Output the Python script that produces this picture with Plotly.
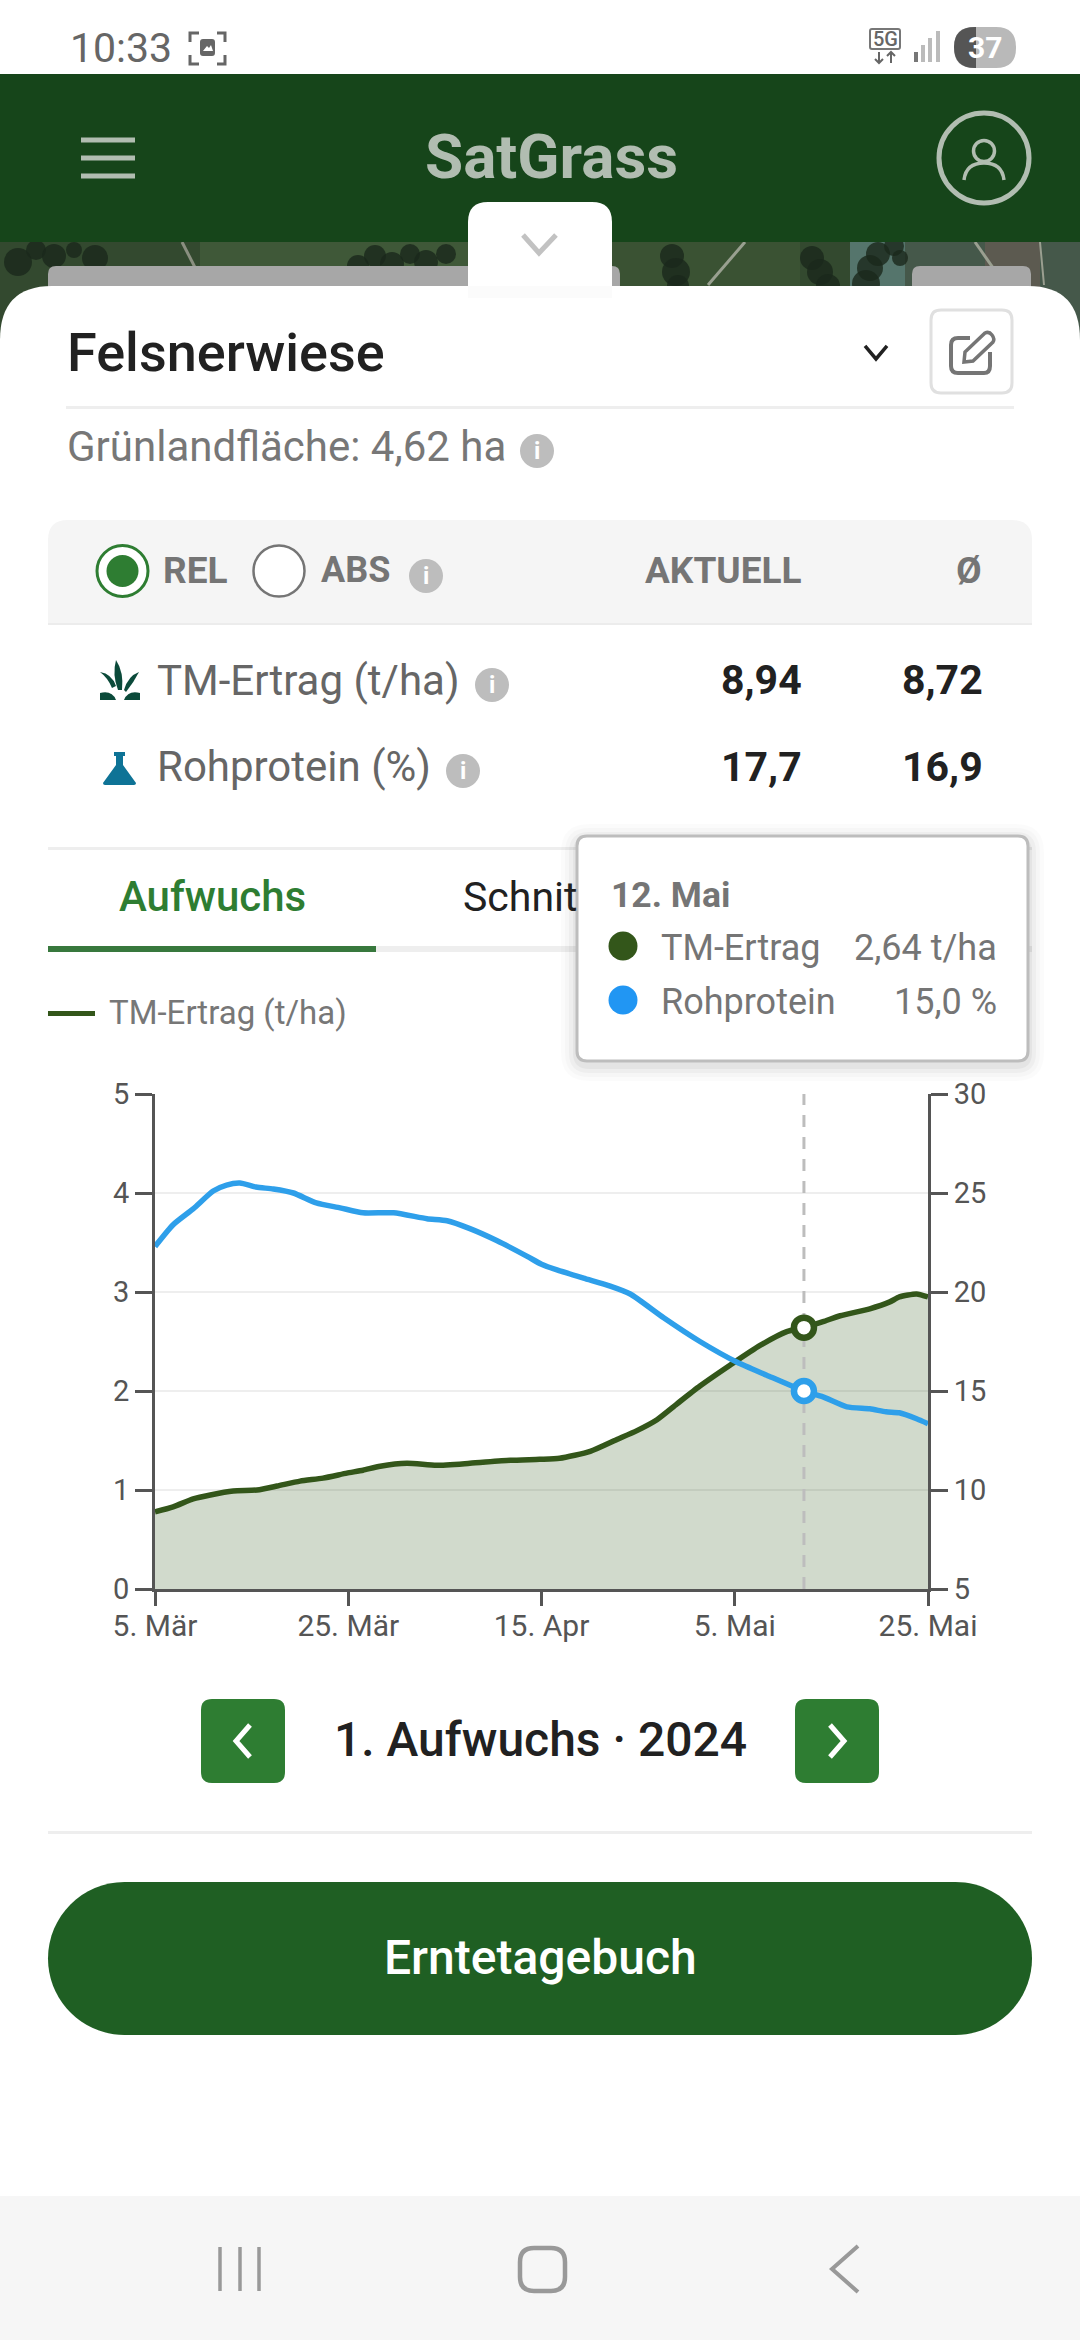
import numpy as np
import plotly.graph_objects as go

# values, x = days since 5. Mär
tm_days = [0, 1.9, 4, 5.8, 8.2, 10.7, 12.8, 15.2, 17.6, 20.1, 21.8, 23.6, 26.4, 29.5, 33, 37.2, 40.3, 42.4, 45.6, 48.4, 50.5, 52.6, 54.7, 57.1, 60.25, 63.4, 66.2, 68, 70, 71.8, 74.9, 77, 78, 79.8, 81]
tm_ertrag = [0.78, 0.83, 0.91, 0.95, 0.99, 1.00, 1.04, 1.09, 1.12, 1.17, 1.20, 1.24, 1.27, 1.25, 1.27, 1.30, 1.31, 1.32, 1.39, 1.51, 1.60, 1.71, 1.87, 2.05, 2.26, 2.46, 2.60, 2.64, 2.70, 2.76, 2.83, 2.90, 2.95, 2.98, 2.95]

rp_days = [0, 1.9, 4, 6.1, 7.5, 8.9, 10.6, 12.4, 14.5, 16.9, 19.4, 21.8, 25, 28.5, 30.6, 33, 35.8, 39, 40.5, 42.2, 44.9, 47.7, 49.8, 53.3, 57.1, 61, 64.1, 68, 70, 72.5, 74.9, 76.6, 78, 79.8, 81]
rohprotein = [22.3, 23.4, 24.2, 25.1, 25.4, 25.5, 25.3, 25.2, 25.0, 24.5, 24.25, 24.0, 24.0, 23.7, 23.6, 23.2, 22.6, 21.8, 21.4, 21.1, 20.7, 20.3, 19.9, 18.7, 17.5, 16.45, 15.8, 15.0, 14.7, 14.2, 14.1, 13.95, 13.9, 13.6, 13.35]

x_ticks = ["5. Mär", "25. Mär", "15. Apr", "5. Mai", "25. Mai"]
y_left = [0, 1, 2, 3, 4, 5]
y_right = [5, 10, 15, 20, 25, 30]
selected_day = 68
selected_tm = 2.64
selected_rp = 15.0

W, H = 1080, 2340
FONT = "Roboto"
GREEN_LINE = "#33561a"
BLUE_LINE = "#2e9fea"
AXIS = "#555555"


def X(v):
    return v / W


def Y(v):
    return 1 - v / H


def path(*cmds):
    # cmds: ("M", x, y) ("L", x, y) ("Q", cx, cy, x, y) ("C", ...) ("Z",)
    out = []
    for c in cmds:
        pts = c[1:]
        s = c[0]
        for i in range(0, len(pts), 2):
            s += f" {X(pts[i]):.5f} {Y(pts[i + 1]):.5f}"
        out.append(s)
    return " ".join(out)


def rr_cmds(x0, y0, x1, y1, r):
    return [("M", x0 + r, y0), ("L", x1 - r, y0), ("Q", x1, y0, x1, y0 + r), ("L", x1, y1 - r), ("Q", x1, y1, x1 - r, y1),
            ("L", x0 + r, y1), ("Q", x0, y1, x0, y1 - r), ("L", x0, y0 + r), ("Q", x0, y0, x0 + r, y0), ("Z",)]


def pill_cmds(x0, y0, x1, y1):
    r = (y1 - y0) / 2
    k = 0.55 * r
    ym = (y0 + y1) / 2
    return [("M", x0 + r, y0), ("L", x1 - r, y0), ("C", x1 - r + k, y0, x1, ym - k, x1, ym), ("C", x1, ym + k, x1 - r + k, y1, x1 - r, y1),
            ("L", x0 + r, y1), ("C", x0 + r - k, y1, x0, ym + k, x0, ym), ("C", x0, ym - k, x0 + r - k, y0, x0 + r, y0), ("Z",)]


shapes = []
notes = []


def sh_path(cmds, fill=None, line=None, lw=0):
    shapes.append(dict(type="path", xref="paper", yref="paper", path=path(*cmds), layer="below",
                       fillcolor=fill if fill else "rgba(0,0,0,0)",
                       line=dict(color=line if line else "rgba(0,0,0,0)", width=lw)))


def rect(x0, y0, x1, y1, fill):
    shapes.append(dict(type="rect", xref="paper", yref="paper", x0=X(x0), x1=X(x1), y0=Y(y0), y1=Y(y1), layer="below",
                       fillcolor=fill, line=dict(width=0)))


def rrect(x0, y0, x1, y1, r, fill=None, line=None, lw=0):
    sh_path(rr_cmds(x0, y0, x1, y1, r), fill, line, lw)


def circle(cx, cy, r, fill=None, line=None, lw=0):
    shapes.append(dict(type="circle", xref="paper", yref="paper", x0=X(cx - r), x1=X(cx + r), y0=Y(cy - r), y1=Y(cy + r), layer="below",
                       fillcolor=fill if fill else "rgba(0,0,0,0)",
                       line=dict(color=line if line else "rgba(0,0,0,0)", width=lw)))


def poly(pts, color, lw, fill=None):
    cmds = [("M", *pts[0])] + [("L", *p) for p in pts[1:]]
    if fill:
        cmds.append(("Z",))
    sh_path(cmds, fill, color, lw)


def text(x, y, s, size, color, anchor="left", weight=400):
    notes.append(dict(xref="paper", yref="paper", x=X(x), y=Y(y), text=s, showarrow=False, xanchor=anchor, yanchor="middle",
                      borderpad=0, font=dict(family=FONT, size=size, color=color, weight=weight)))


def info(cx, cy):
    circle(cx, cy, 17, fill="#bdbdbd")
    text(cx, cy, "i", 24, "white", "center", 700)


# satellite strip behind the sheet
rect(0, 236, W, 345, "#33492f")
rect(200, 236, 468, 345, "#3f5838")
rect(612, 236, 800, 345, "#3a5233")
rect(850, 236, 905, 345, "#55756c")
rect(905, 236, W, 345, "#45584a")
rect(985, 236, 1040, 345, "#5c5a50")
for cx, cy, r in [(18, 262, 14), (36, 250, 10), (54, 256, 12), (74, 250, 8), (95, 258, 13), (340, 278, 9), (358, 266, 11), (375, 256, 11), (392, 264, 12),
                  (410, 254, 10), (426, 262, 12), (446, 254, 10), (672, 256, 12), (676, 272, 14), (678, 286, 11),
                  (812, 258, 12), (820, 272, 13), (828, 286, 12), (866, 284, 14), (870, 268, 13), (878, 254, 12), (894, 246, 10), (900, 258, 8)]:
    circle(cx, cy, r, fill="rgba(26,40,27,0.8)")
poly([(182, 242), (204, 285)], "#8a8f80", 3)
poly([(745, 242), (708, 285)], "#99a090", 3)
poly([(975, 242), (1005, 285)], "#9a9f90", 3)
poly([(1040, 242), (1044, 285)], "#9a9f90", 2)
rrect(48, 266, 620, 310, 8, fill="#a7a7a7")
rrect(912, 266, 1031, 310, 8, fill="#a7a7a7")

# status bar + header
rect(0, 74, W, 242, "#16451a")
text(69, 48, "10:33", 41, "#666666")
for pts in [[(190, 42), (190, 33), (199, 33)], [(217, 33), (225, 33), (225, 42)], [(190, 55), (190, 64), (199, 64)], [(217, 64), (225, 64), (225, 55)]]:
    poly(pts, "#666666", 3)
rrect(200, 39, 215, 56, 3, fill="#666666")
poly([(203, 51), (207, 46), (209, 48), (211, 45), (213, 51)], "white", 0, fill="white")
rrect(870, 29, 900, 49, 2, line="#777777", lw=2)
text(885, 39, "5G", 20, "#666666", "center", 500)
poly([(879, 52), (879, 63)], "#666666", 2)
poly([(875, 59), (879, 63), (883, 59)], "#666666", 2)
poly([(891, 63), (891, 52)], "#666666", 2)
poly([(887, 56), (891, 52), (895, 56)], "#666666", 2)
for bx, bh, bc in [(916, 10, "#777777"), (923, 17, "#bbbbbb"), (930, 24, "#bbbbbb"), (938, 31, "#bbbbbb")]:
    rect(bx - 2, 62 - bh, bx + 2, 62, bc)
rrect(954, 27, 1016, 68, 20, fill="#b9b9b9")
sh_path([("M", 976, 27), ("L", 975, 27), ("Q", 954, 27, 954, 47), ("Q", 954, 68, 975, 68), ("L", 976, 68), ("Z",)], fill="#555555")
text(985, 47, "37", 30, "white", "center", 700)

for hy in [140, 158, 176]:
    rect(81, hy - 2.5, 135, hy + 2.5, "#b1bdb1")
text(551, 157, "SatGrass", 62, "#b1bdb1", "center", 700)
circle(984, 158, 45, line="#b1bdb1", lw=5)
circle(984, 151, 10.5, line="#b1bdb1", lw=3.5)
sh_path([("M", 964, 180), ("Q", 966, 163, 984, 163), ("Q", 1002, 163, 1004, 180)], line="#b1bdb1", lw=3.5)

# white sheet
sh_path([("M", 0, 340), ("Q", 0, 286, 52, 286), ("L", 1028, 286), ("Q", 1080, 286, 1080, 340), ("L", 1080, 2196), ("L", 0, 2196), ("Z",)], fill="white")
rect(468, 286, 612, 298, "#fbfbfb")
sh_path([("M", 468, 286), ("L", 468, 222), ("Q", 468, 202, 488, 202), ("L", 592, 202), ("Q", 612, 202, 612, 222), ("L", 612, 286), ("Z",)], fill="white")
poly([(523, 235), (539, 253), (556, 235)], "#c2c2c2", 5)

text(66, 352, "Felsnerwiese", 54, "#212121", "left", 500)
poly([(865, 346), (876, 359), (887, 346)], "#212121", 3.5)
rrect(931, 310, 1012, 393, 10, fill="white", line="#e0e0e0", lw=3)
sh_path([("M", 970, 338), ("L", 958, 338), ("Q", 951, 338, 951, 345), ("L", 951, 366), ("Q", 951, 373, 958, 373), ("L", 984, 373), ("Q", 990, 373, 990, 366), ("L", 990, 352)], line="#757575", lw=4)
sh_path([("M", 964, 362), ("L", 965, 352), ("L", 985, 333), ("Q", 989, 331, 992, 335), ("Q", 995, 339, 993, 342), ("L", 973, 361), ("Z",)], line="#757575", lw=3.5)
rect(66, 406, 1014, 409, "#eeeeee")
text(66, 446, "Grünlandfläche: 4,62 ha", 42, "#777777")
info(537, 451)

# table header
sh_path([("M", 48, 625), ("L", 48, 540), ("Q", 48, 520, 68, 520), ("L", 1012, 520), ("Q", 1032, 520, 1032, 540), ("L", 1032, 625), ("Z",)], fill="#f5f5f5")
rect(48, 623, 1032, 625, "#ececec")
circle(122.5, 571, 25.5, fill="white", line="#2e7d32", lw=3)
circle(122.5, 571, 16, fill="#2e7d32")
text(162, 570, "REL", 37, "#757575", "left", 700)
circle(279, 571, 25.5, fill="white", line="#757575", lw=2.5)
text(320, 570, "ABS", 36, "#757575", "left", 700)
info(426, 576)
text(803, 570, "AKTUELL", 37, "#757575", "right", 700)
text(982, 570, "Ø", 37, "#757575", "right", 700)

# rows
sh_path([("M", 118, 690), ("Q", 112, 675, 116, 660), ("Q", 124, 672, 122, 690), ("Z",)], fill="#0b4a3a")
sh_path([("M", 112, 688), ("Q", 108, 678, 100, 672), ("Q", 112, 674, 116, 686), ("Z",)], fill="#0b4a3a")
sh_path([("M", 124, 690), ("Q", 128, 676, 139, 672), ("Q", 134, 682, 126, 692), ("Z",)], fill="#0b4a3a")
sh_path([("M", 100, 700), ("L", 100, 693), ("Q", 112, 690, 116, 700), ("Z",)], fill="#0b4a3a")
sh_path([("M", 140, 700), ("L", 140, 693), ("Q", 128, 690, 124, 700), ("Z",)], fill="#0b4a3a")
text(156, 680, "TM-Ertrag (t/ha)", 42, "#666666")
info(492, 685)
text(803, 680, "8,94", 41, "#212121", "right", 700)
text(984, 680, "8,72", 41, "#212121", "right", 700)
sh_path([("M", 114, 752), ("L", 125, 752), ("L", 125, 756), ("L", 123, 756), ("L", 123, 765), ("L", 136, 783), ("Q", 136, 785, 134, 785),
         ("L", 105, 785), ("Q", 103, 785, 103, 783), ("L", 116, 765), ("L", 116, 756), ("L", 114, 756), ("Z",)], fill="#0e7396")
text(156, 767, "Rohprotein (%)", 42, "#666666")
info(463, 771)
text(803, 767, "17,7", 41, "#212121", "right", 700)
text(984, 767, "16,9", 41, "#212121", "right", 700)

# tabs
rect(48, 847, 1032, 850, "#eeeeee")
text(118, 897, "Aufwuchs", 42, "#2e7d32", "left", 500)
text(462, 897, "Schnit", 41, "#212121", "left", 400)
rect(48, 946, 1032, 952, "#eeeeee")
rect(48, 946, 376, 952, "#38783d")
sh_path([("M", 48, 1013.5), ("L", 95, 1013.5)], line=GREEN_LINE, lw=5)
text(108, 1012, "TM-Ertrag (t/ha)", 33, "#777777")

# tooltip
for grow, alpha in [(16, 0.015), (12, 0.02), (8, 0.03), (4, 0.04)]:
    rrect(577 - grow, 836 - grow + 4, 1028 + grow, 1061 + grow + 4, 12 + grow, fill=f"rgba(0,0,0,{alpha})")
rrect(577, 836, 1028, 1061, 10, fill="white", line="#bdbdbd", lw=3)
text(610, 895, "12. Mai", 35.5, "#757575", "left", 700)
circle(623, 946, 14.5, fill=GREEN_LINE)
text(660, 948, "TM-Ertrag", 36, "#757575")
text(998, 948, f"{selected_tm:.2f} t/ha".replace(".", ","), 36, "#757575", "right")
circle(623, 1000, 14.5, fill="#2196f3")
text(660, 1002, "Rohprotein", 36, "#757575")
text(998, 1002, f"{selected_rp:.1f} %".replace(".", ","), 36, "#757575", "right")

# bottom part
rrect(201, 1699, 285, 1783, 11, fill="#2e7d32")
poly([(250, 1725), (236, 1741), (250, 1757)], "white", 5)
rrect(795, 1699, 879, 1783, 11, fill="#2e7d32")
poly([(830, 1725), (844, 1741), (830, 1757)], "white", 5)
text(540, 1739, "1. Aufwuchs · 2024", 48, "#212121", "center", 500)
rect(48, 1831, 1032, 1834, "#eeeeee")
sh_path(pill_cmds(48, 1882, 1032, 2035), fill="#1f5f23")
text(540, 1957, "Erntetagebuch", 48, "white", "center", 500)
rect(0, 2196, W, H, "#f6f6f6")
for nx in [220, 240, 259]:
    poly([(nx, 2247), (nx, 2291)], "#999999", 3.5)
rrect(520, 2248, 565, 2291, 14, line="#999999", lw=4.5)
poly([(858, 2246), (832, 2269), (858, 2292)], "#999999", 4)

fig = go.Figure()
fig.add_trace(go.Scatter(x=tm_days, y=tm_ertrag, mode="lines", line=dict(color=GREEN_LINE, width=5.5, shape="spline", smoothing=0.6),
                         fill="tozeroy", fillcolor="rgba(47,85,24,0.22)", name="TM-Ertrag (t/ha)"))
fig.add_trace(go.Scatter(x=rp_days, y=rohprotein, yaxis="y2", mode="lines", line=dict(color=BLUE_LINE, width=5.5, shape="spline", smoothing=0.6),
                         name="Rohprotein (%)"))
fig.add_trace(go.Scatter(x=[selected_day, selected_day], y=[0, 5], mode="lines", line=dict(color="#bdbdbd", width=3, dash="12px,10px"), hoverinfo="skip"))
fig.add_trace(go.Scatter(x=[selected_day], y=[selected_tm], mode="markers",
                         marker=dict(size=20, color="white", line=dict(color=GREEN_LINE, width=6.5))))
fig.add_trace(go.Scatter(x=[selected_day], y=[selected_rp], yaxis="y2", mode="markers",
                         marker=dict(size=20, color="white", line=dict(color=BLUE_LINE, width=6.5))))

fig.update_layout(
    template="none",
    width=W, height=H,
    margin=dict(l=0, r=0, t=0, b=0, pad=0),
    paper_bgcolor="white",
    plot_bgcolor="rgba(0,0,0,0)",
    showlegend=False,
    font=dict(family=FONT, size=28, color=AXIS),
    shapes=shapes,
    annotations=notes,
    xaxis=dict(domain=[X(155), X(928)], range=[0, 81], tickmode="array", tickvals=np.linspace(0, 81, 5), ticktext=x_ticks, automargin=False,
               ticks="outside", ticklen=14, tickwidth=3, tickcolor=AXIS, showline=True, linecolor=AXIS, linewidth=3, ticklabelstandoff=-6,
               showgrid=False, zeroline=False, tickfont=dict(size=30, color=AXIS)),
    yaxis=dict(domain=[Y(1589), Y(1094)], range=[0, 5], tickmode="array", tickvals=y_left, automargin=False,
               ticks="outside", ticklen=17, tickwidth=3, tickcolor=AXIS, showline=True, linecolor=AXIS, linewidth=3,
               gridcolor="#eeeeee", gridwidth=2, zeroline=False, tickfont=dict(size=29, color=AXIS)),
    yaxis2=dict(overlaying="y", side="right", range=[5, 30], tickmode="array", tickvals=y_right, automargin=False,
                ticks="outside", ticklen=17, tickwidth=3, tickcolor=AXIS, showline=True, linecolor=AXIS, linewidth=3,
                showgrid=False, zeroline=False, tickfont=dict(size=29, color=AXIS)),
)

fig.write_html("out.html", config={"displayModeBar": False},
               post_script="document.body.style.margin='0';document.documentElement.style.overflow='hidden';")
